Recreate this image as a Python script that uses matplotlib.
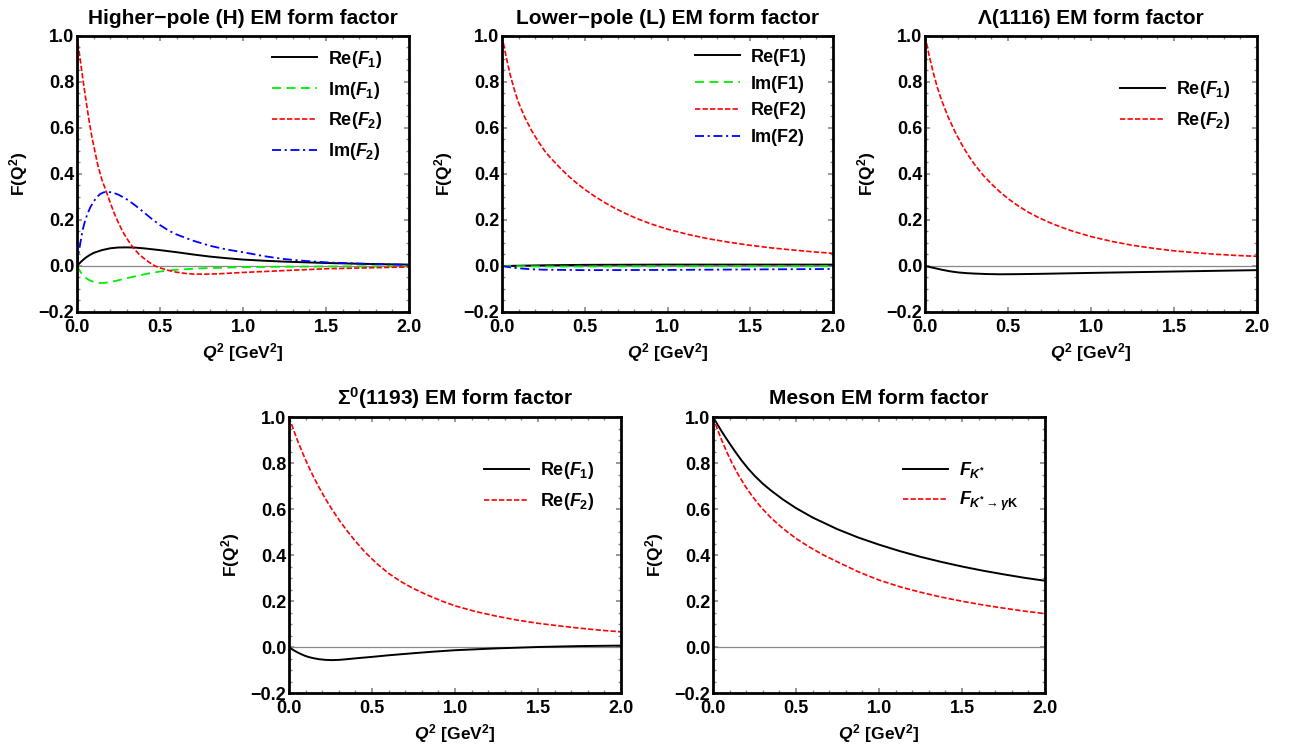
import matplotlib
matplotlib.use("Agg")
import matplotlib.pyplot as plt
from matplotlib.ticker import MultipleLocator

plt.rcParams['font.family'] = ['Liberation Sans', 'DejaVu Sans']
plt.rcParams['font.weight'] = 'bold'
plt.rcParams['mathtext.fontset'] = 'custom'
plt.rcParams['mathtext.rm'] = 'Liberation Sans:bold'
plt.rcParams['mathtext.it'] = 'Liberation Sans:italic:bold'
plt.rcParams['mathtext.bf'] = 'Liberation Sans:bold'
plt.rcParams['mathtext.fallback'] = 'stixsans'

# ---------------- data ----------------
# Higher-pole (H)
H_re_f1_q = [0, 0.025, 0.05, 0.075, 0.1, 0.15, 0.2, 0.25, 0.3, 0.35, 0.4, 0.45, 0.5, 0.6, 0.7, 0.8, 0.9, 1.0, 1.125, 1.25, 1.5, 1.75, 2.0]
H_re_f1 = [0, 0.019, 0.035, 0.047, 0.057, 0.069, 0.077, 0.0805, 0.081, 0.08, 0.077, 0.073, 0.069, 0.06, 0.05, 0.041, 0.034, 0.028, 0.023, 0.019, 0.013, 0.009, 0.006]
H_im_f1_q = [0, 0.015, 0.03, 0.05, 0.07, 0.1, 0.14, 0.17, 0.2, 0.25, 0.3, 0.35, 0.4, 0.45, 0.5, 0.6, 0.75, 1.0, 1.25, 1.5, 2.0]
H_im_f1 = [0, -0.019, -0.035, -0.05, -0.06, -0.069, -0.074, -0.073, -0.07, -0.062, -0.053, -0.045, -0.037, -0.03, -0.024, -0.016, -0.01, -0.005, -0.003, -0.002, -0.001]
H_re_f2_q = [0, 0.0125, 0.025, 0.0375, 0.05, 0.0625, 0.075, 0.0875, 0.1, 0.125, 0.15, 0.175, 0.2, 0.225, 0.25, 0.275, 0.3, 0.325, 0.35, 0.375, 0.4, 0.435, 0.47, 0.5, 0.55, 0.6, 0.65, 0.7, 0.775, 0.85, 0.925, 1.0, 1.125, 1.25, 1.375, 1.5, 1.75, 2.0]
H_re_f2 = [1.0, 0.934, 0.868, 0.802, 0.74, 0.68, 0.622, 0.57, 0.525, 0.44, 0.375, 0.326, 0.276, 0.228, 0.187, 0.15, 0.12, 0.093, 0.07, 0.05, 0.035, 0.016, 0.0, -0.008, -0.019, -0.027, -0.032, -0.035, -0.0355, -0.034, -0.031, -0.028, -0.024, -0.02, -0.016, -0.012, -0.008, -0.004]
H_im_f2_q = [0, 0.005, 0.01, 0.02, 0.035, 0.05, 0.065, 0.08, 0.1, 0.12, 0.14, 0.16, 0.18, 0.2, 0.22, 0.25, 0.3, 0.35, 0.4, 0.45, 0.5, 0.55, 0.6, 0.7, 0.8, 0.9, 1.0, 1.125, 1.25, 1.375, 1.5, 1.75, 2.0]
H_im_f2 = [0, 0.03, 0.055, 0.1, 0.16, 0.2, 0.23, 0.255, 0.28, 0.3, 0.313, 0.32, 0.322, 0.321, 0.318, 0.31, 0.29, 0.264, 0.235, 0.205, 0.178, 0.155, 0.137, 0.11, 0.088, 0.072, 0.06, 0.043, 0.03, 0.022, 0.016, 0.009, 0.005]

# Lower-pole (L)
L_re_f1_q = [0, 0.25, 0.5, 1.0, 1.5, 2.0]
L_re_f1 = [0, 0.003, 0.005, 0.006, 0.006, 0.006]
L_im_f1_q = [0, 0.25, 0.5, 1.0, 1.5, 2.0]
L_im_f1 = [0, -0.002, -0.002, -0.001, -0.001, -0.001]
L_re_f2_q = [0, 0.025, 0.05, 0.075, 0.1, 0.14, 0.18, 0.22, 0.26, 0.3, 0.35, 0.4, 0.45, 0.5, 0.56, 0.62, 0.68, 0.75, 0.82, 0.9, 1.0, 1.125, 1.25, 1.375, 1.5, 1.625, 1.75, 1.875, 2.0]
L_re_f2 = [1.0, 0.91, 0.83, 0.765, 0.71, 0.643, 0.587, 0.54, 0.498, 0.465, 0.427, 0.392, 0.361, 0.333, 0.303, 0.276, 0.252, 0.227, 0.205, 0.183, 0.16, 0.137, 0.118, 0.103, 0.09, 0.079, 0.07, 0.062, 0.055]
L_im_f2_q = [0, 0.05, 0.1, 0.175, 0.25, 0.5, 1.0, 1.5, 2.0]
L_im_f2 = [0, -0.006, -0.01, -0.014, -0.016, -0.018, -0.017, -0.015, -0.013]

# Lambda(1116)
A_re_f1_q = [0, 0.05, 0.1, 0.15, 0.2, 0.25, 0.3, 0.375, 0.45, 0.55, 0.7, 0.85, 1.0, 1.25, 1.5, 1.75, 2.0]
A_re_f1 = [0, -0.008, -0.016, -0.023, -0.028, -0.031, -0.033, -0.035, -0.036, -0.0355, -0.034, -0.032, -0.03, -0.027, -0.024, -0.021, -0.018]
A_re_f2_q = [0, 0.025, 0.05, 0.075, 0.1, 0.14, 0.18, 0.22, 0.26, 0.3, 0.35, 0.4, 0.45, 0.5, 0.56, 0.62, 0.68, 0.75, 0.82, 0.9, 1.0, 1.125, 1.25, 1.375, 1.5, 1.625, 1.75, 1.875, 2.0]
A_re_f2 = [1.0, 0.915, 0.84, 0.775, 0.72, 0.647, 0.585, 0.53, 0.482, 0.44, 0.395, 0.357, 0.323, 0.293, 0.262, 0.235, 0.212, 0.189, 0.169, 0.149, 0.128, 0.107, 0.09, 0.077, 0.066, 0.058, 0.051, 0.046, 0.042]

# Sigma0(1193)
S_re_f1_q = [0, 0.015, 0.03, 0.05, 0.07, 0.095, 0.12, 0.15, 0.18, 0.22, 0.26, 0.3, 0.35, 0.42, 0.5, 0.6, 0.75, 0.875, 1.0, 1.125, 1.25, 1.375, 1.5, 1.75, 2.0]
S_re_f1 = [0, -0.008, -0.015, -0.023, -0.03, -0.038, -0.044, -0.049, -0.053, -0.056, -0.057, -0.056, -0.053, -0.048, -0.043, -0.036, -0.027, -0.02, -0.014, -0.01, -0.006, -0.003, 0.0, 0.004, 0.006]
S_re_f2_q = [0, 0.025, 0.05, 0.08, 0.11, 0.145, 0.18, 0.22, 0.26, 0.305, 0.35, 0.4, 0.46, 0.53, 0.6, 0.675, 0.75, 0.83, 0.92, 1.0, 1.125, 1.25, 1.375, 1.5, 1.625, 1.75, 1.875, 2.0]
S_re_f2 = [1.0, 0.949, 0.9, 0.847, 0.797, 0.744, 0.695, 0.644, 0.597, 0.549, 0.505, 0.46, 0.411, 0.362, 0.32, 0.284, 0.254, 0.227, 0.2, 0.179, 0.154, 0.134, 0.117, 0.103, 0.092, 0.082, 0.073, 0.066]

# Meson
M_fk_q = [0, 0.025, 0.05, 0.075, 0.1, 0.135, 0.17, 0.21, 0.25, 0.3, 0.35, 0.42, 0.5, 0.6, 0.75, 0.875, 1.0, 1.125, 1.25, 1.375, 1.5, 1.625, 1.75, 1.875, 2.0]
M_fk = [1.0, 0.97, 0.94, 0.912, 0.885, 0.848, 0.813, 0.777, 0.745, 0.71, 0.68, 0.642, 0.604, 0.563, 0.512, 0.476, 0.445, 0.417, 0.392, 0.37, 0.35, 0.332, 0.316, 0.301, 0.288]
M_fkg_q = [0, 0.025, 0.05, 0.08, 0.11, 0.15, 0.19, 0.24, 0.29, 0.35, 0.42, 0.5, 0.575, 0.66, 0.75, 0.875, 1.0, 1.125, 1.25, 1.375, 1.5, 1.625, 1.75, 1.875, 2.0]
M_fkg = [1.0, 0.95, 0.903, 0.853, 0.806, 0.752, 0.704, 0.652, 0.607, 0.561, 0.516, 0.472, 0.437, 0.402, 0.37, 0.327, 0.291, 0.262, 0.238, 0.217, 0.199, 0.183, 0.169, 0.156, 0.145]

titles = ["Higher\u2212pole (H) EM form factor", "Lower\u2212pole (L) EM form factor",
          "\u039b(1116) EM form factor", "\u03a3$^{0}$(1193) EM form factor", "Meson EM form factor"]

# ---------------- styles ----------------
BLACK = dict(color='black', lw=1.4, ls='-')
GREEN = dict(color='#00ee00', lw=1.3, ls=(0, (5, 3)))
RED = dict(color='#ff0000', lw=1.2, ls=(0, (3.2, 1.3)))
BLUE = dict(color='#0000ff', lw=1.3, ls=(0, (5, 2, 1.2, 2)))

fig = plt.figure(figsize=(12.94, 7.54), dpi=100)
W, H = 1294, 754

def make_ax(left_px, top_px, right_px, bottom_px):
    return fig.add_axes([left_px / W, 1 - bottom_px / H, (right_px - left_px) / W, (bottom_px - top_px) / H])

axes = [make_ax(77, 36, 409, 312), make_ax(502, 36, 833, 312), make_ax(925, 36, 1257, 312),
        make_ax(289, 417, 621, 693), make_ax(713, 417, 1045, 693)]

def style(ax, title):
    ax.set_xlim(0, 2.0)
    ax.set_ylim(-0.2, 1.0)
    ax.axhline(0, color='#888888', lw=0.9, zorder=1)
    ax.xaxis.set_major_locator(MultipleLocator(0.5))
    ax.xaxis.set_minor_locator(MultipleLocator(0.1))
    ax.yaxis.set_major_locator(MultipleLocator(0.2))
    ax.yaxis.set_minor_locator(MultipleLocator(0.05))
    ax.tick_params(which='both', direction='in', top=True, right=True, color='#888888')
    ax.tick_params(which='major', length=3.5, width=1.2, labelsize=13)
    ax.tick_params(axis='x', which='major', pad=5)
    ax.tick_params(axis='y', which='major', pad=2)
    ax.tick_params(which='minor', length=2, width=1.0)
    ax.set_xticks([0, 0.5, 1.0, 1.5, 2.0])
    ax.set_xticklabels(['0.0', '0.5', '1.0', '1.5', '2.0'])
    for lab in ax.get_xticklabels() + ax.get_yticklabels():
        lab.set_fontweight('bold')
    for sp in ax.spines.values():
        sp.set_linewidth(2.0)
        sp.set_color('black')
    ax.set_title(title, fontsize=15, fontweight='bold', pad=9)
    ax.set_xlabel(r'$Q^2$ [GeV$^2$]', fontsize=12.5, fontweight='bold', labelpad=4)
    ax.set_ylabel(r'F(Q$^2$)', fontsize=12.5, fontweight='bold', labelpad=6)

def legend(ax, y_top):
    ax.legend(loc='upper right', bbox_to_anchor=(0.958, y_top), frameon=False,
              handlelength=2.5, handletextpad=0.6, labelspacing=0.55, borderaxespad=0.3,
              prop={'weight': 'bold', 'size': 13})

# Panel 1
ax = axes[0]
ax.plot(H_re_f1_q, H_re_f1, label=r'Re($F_1$)', **BLACK)
ax.plot(H_im_f1_q, H_im_f1, label=r'Im($F_1$)', **GREEN)
ax.plot(H_re_f2_q, H_re_f2, label=r'Re($F_2$)', **RED)
ax.plot(H_im_f2_q, H_im_f2, label=r'Im($F_2$)', **BLUE)
style(ax, titles[0])
legend(ax, 1.0)

# Panel 2
ax = axes[1]
ax.plot(L_re_f1_q, L_re_f1, label='Re(F1)', **BLACK)
ax.plot(L_im_f1_q, L_im_f1, label='Im(F1)', **GREEN)
ax.plot(L_re_f2_q, L_re_f2, label='Re(F2)', **RED)
ax.plot(L_im_f2_q, L_im_f2, label='Im(F2)', **BLUE)
style(ax, titles[1])
legend(ax, 1.0)

# Panel 3
ax = axes[2]
ax.plot(A_re_f1_q, A_re_f1, label=r'Re($F_1$)', **BLACK)
ax.plot(A_re_f2_q, A_re_f2, label=r'Re($F_2$)', **RED)
style(ax, titles[2])
legend(ax, 0.89)

# Panel 4
ax = axes[3]
ax.plot(S_re_f1_q, S_re_f1, label=r'Re($F_1$)', **BLACK)
ax.plot(S_re_f2_q, S_re_f2, label=r'Re($F_2$)', **RED)
style(ax, titles[3])
legend(ax, 0.89)

# Panel 5
ax = axes[4]
ax.plot(M_fk_q, M_fk, label=r'$F_{K^{*}}$', **BLACK)
ax.plot(M_fkg_q, M_fkg, label=r'$F_{K^{*}{\rightarrow}\gamma\mathrm{K}}$', **RED)
style(ax, titles[4])
legend(ax, 0.89)

fig.savefig('out.png', dpi=100)
